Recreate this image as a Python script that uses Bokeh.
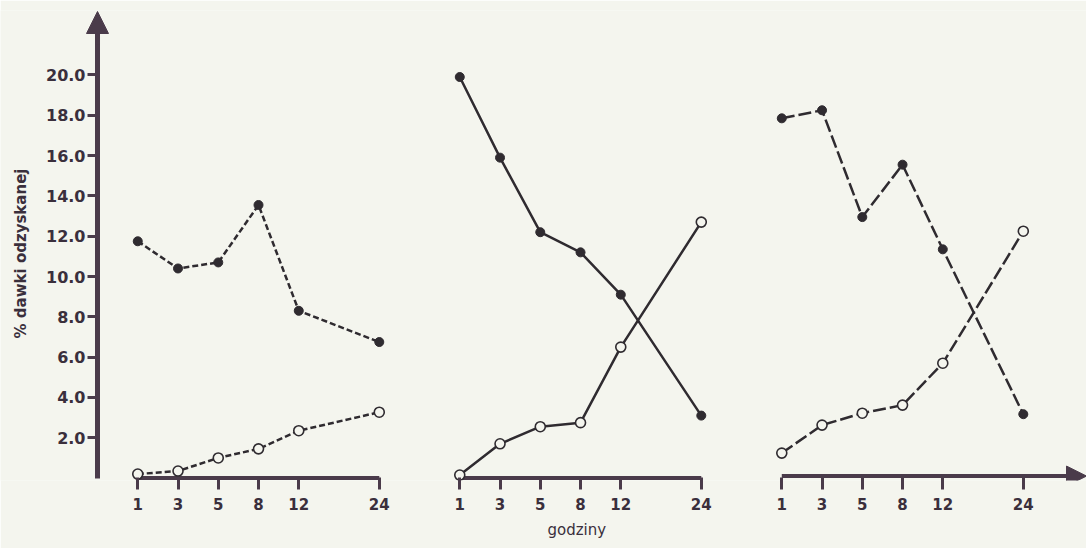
from bokeh.plotting import figure
from bokeh.models import (FixedTicker, Range1d, Arrow, NormalHead, ColumnDataSource, Title)
from bokeh.embed import file_html
from bokeh.resources import INLINE

# ---- data ----
hours = [1, 3, 5, 8, 12, 24]
hour_labels = ["1", "3", "5", "8", "12", "24"]
hour_slot = [0, 1, 2, 3, 4, 6]          # tick slot of each hour inside a panel
panel_offsets = [0, 8, 16]              # panel start slot

p1_filled = [11.75, 10.4, 10.7, 13.55, 8.3, 6.75]
p1_open = [0.2, 0.35, 1.0, 1.45, 2.35, 3.27]
p2_filled = [19.9, 15.9, 12.2, 11.2, 9.1, 3.1]
p2_open = [0.15, 1.7, 2.55, 2.75, 6.5, 12.7]
p3_filled = [17.85, 18.25, 12.95, 15.55, 11.35, 3.17]
p3_open = [1.24, 2.63, 3.22, 3.62, 5.7, 12.25]

y_ticks = [2, 4, 6, 8, 10, 12, 14, 16, 18, 20]
y_label = "% dawki odzyskanej"
x_label = "godziny"

BG = "#f4f5ee"
AXC = "#4a3b4a"
TXT = "#3a2f3c"
LINE = "#2f2b30"

Y_AXIS_X = -1.0
X_START = -3.41
X_END = 23.57

p = figure(width=1086, height=548, output_backend="svg", toolbar_location=None,
           x_range=Range1d(X_START, X_END), y_range=Range1d(-0.12, 23.2),
           min_border_left=0, min_border_right=0, min_border_top=10,
           min_border_bottom=68)
p.background_fill_color = BG
p.border_fill_color = BG
p.outline_line_color = None
p.xgrid.visible = False
p.ygrid.visible = False

# ---- y axis ----
ya = p.yaxis[0]
ya.fixed_location = Y_AXIS_X
ya.ticker = FixedTicker(ticks=y_ticks)
ya.major_label_overrides = {t: f"{t:.1f}" for t in y_ticks}
ya.minor_tick_line_color = None
ya.major_tick_in = 0
ya.major_tick_out = 10
ya.major_tick_line_width = 3
ya.major_tick_line_color = AXC
ya.axis_line_color = AXC
ya.axis_line_width = 5
ya.bounds = (0, 22.3)
ya.major_label_standoff = 2
ya.major_label_text_font = "DejaVu Sans"
ya.major_label_text_font_style = "bold"
ya.major_label_text_font_size = "16px"
ya.major_label_text_color = TXT
ya.axis_label = y_label
ya.axis_label_text_font = "DejaVu Sans"
ya.axis_label_text_font_style = "bold"
ya.axis_label_text_font_size = "15px"
ya.axis_label_text_color = TXT
ya.axis_label_standoff = 13

p.add_layout(Arrow(end=NormalHead(size=22, fill_color=AXC, line_color=AXC),
                   x_start=Y_AXIS_X, y_start=21.5, x_end=Y_AXIS_X, y_end=23.15,
                   line_color=AXC, line_width=5))

# ---- x axis ----
xs_all = [off + s for off in panel_offsets for s in hour_slot]
xa = p.xaxis[0]
xa.ticker = FixedTicker(ticks=xs_all)
xa.major_label_overrides = {off + s: lab for off in panel_offsets
                            for s, lab in zip(hour_slot, hour_labels)}
xa.minor_tick_line_color = None
xa.axis_line_color = None
xa.major_tick_in = 3
xa.major_tick_out = 9
xa.major_tick_line_width = 3
xa.major_tick_line_color = AXC
xa.major_label_standoff = 8
xa.major_label_text_font = "DejaVu Sans"
xa.major_label_text_font_style = "bold"
xa.major_label_text_font_size = "15px"
xa.major_label_text_color = TXT

# x-axis title, under the middle panel
p.add_layout(Title(text=x_label, align="left", offset=547, standoff=12,
                   text_font="DejaVu Sans", text_font_style="normal",
                   text_font_size="15px", text_color=TXT), "below")

# axis line segments for panels 1 and 2, arrow for panel 3
seg_x0 = [off + hour_slot[0] for off in panel_offsets[:2]]
seg_x1 = [off + hour_slot[-1] for off in panel_offsets[:2]]
p.segment(x0=seg_x0, y0=[0, 0], x1=seg_x1, y1=[0, 0],
          line_color=AXC, line_width=4)
p.add_layout(Arrow(end=NormalHead(size=20, fill_color=AXC, line_color=AXC),
                   x_start=panel_offsets[2] + hour_slot[0], y_start=0.1,
                   x_end=X_END, y_end=0.1, line_color=AXC, line_width=4))

# ---- series ----
series = [
    (panel_offsets[0], p1_filled, p1_open, "6 3"),
    (panel_offsets[1], p2_filled, p2_open, "solid"),
    (panel_offsets[2], p3_filled, p3_open, "13 4"),
]
for off, filled, opened, dash in series:
    xs = [off + s for s in hour_slot]
    src_f = ColumnDataSource(dict(x=xs, y=filled, h=hours))
    src_o = ColumnDataSource(dict(x=xs, y=opened, h=hours))
    p.line("x", "y", source=src_f, line_color=LINE, line_width=2.5, line_dash=dash)
    p.line("x", "y", source=src_o, line_color=LINE, line_width=2.5, line_dash=dash)
    p.scatter("x", "y", source=src_f, size=9, fill_color=LINE, line_color=LINE)
    p.scatter("x", "y", source=src_o, size=10, fill_color=BG, line_color=LINE,
              line_width=1.6)

open("out.html", "w").write(file_html(p, INLINE))
